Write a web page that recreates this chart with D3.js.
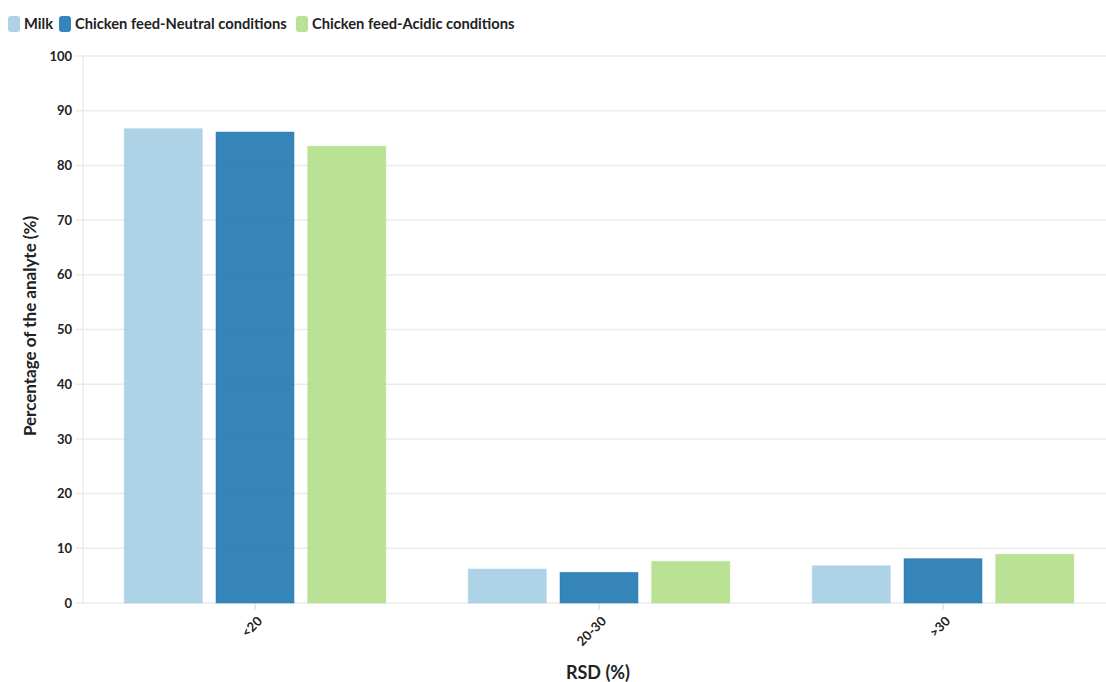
<!DOCTYPE html>
<html><head><meta charset="utf-8">
<script src="https://cdn.jsdelivr.net/npm/d3@7"></script>
<style>
body{margin:0;background:#fff;}
text{font-family:Lato,"Open Sans",sans-serif;font-weight:700;fill:#222;}
</style></head>
<body><svg id="c" width="1106" height="682"></svg>
<script>
const categories = ["<20", "20-30", ">30"];
const seriesNames = ["Milk", "Chicken feed-Neutral conditions", "Chicken feed-Acidic conditions"];
const milk = [86.7, 6.2, 6.8];
const neutral = [86.1, 5.6, 8.1];
const acidic = [83.5, 7.6, 8.9];
const yTicks = [0,10,20,30,40,50,60,70,80,90,100];
const colors = ["#a6cee3", "#1f78b4", "#b2df8a"];

(function(){
const series = [milk, neutral, acidic];
const svg = d3.select("#c");
const pLeft = 83, pRight = 1115, pTop = 56, pBottom = 603;

const y = d3.scaleLinear().domain([0,100]).range([pBottom, pTop]);
const x0 = d3.scaleBand().domain(categories).range([pLeft, pRight]).paddingInner(0.24).paddingOuter(0.12);
const x1 = d3.scaleBand().domain(seriesNames).range([0, x0.bandwidth()]).paddingInner(0.15);

// grid
svg.append("g").selectAll("line").data(yTicks).join("line")
  .attr("x1", 76).attr("x2", 1106)
  .attr("y1", d => y(d)).attr("y2", d => y(d))
  .attr("stroke", "#ebebeb").attr("stroke-width", 1.5);
svg.append("line").attr("x1", pLeft).attr("x2", pLeft).attr("y1", pTop).attr("y2", pBottom)
  .attr("stroke", "#ebebeb").attr("stroke-width", 1.5);

// y axis
const ya = svg.append("g").attr("transform", `translate(${pLeft},0)`)
  .call(d3.axisLeft(y).tickValues(yTicks).tickSize(0).tickPadding(11));
ya.select(".domain").remove();
ya.selectAll("text").attr("font-size", 13).attr("fill", "#111").style("font-family","Lato,'Open Sans',sans-serif").style("font-weight",700);

// x axis
const xa = svg.append("g").attr("transform", `translate(0,${pBottom})`)
  .call(d3.axisBottom(x0).tickSize(7).tickPadding(4));
xa.select(".domain").remove();
xa.selectAll(".tick line").attr("stroke", "#e0e0e0").attr("stroke-width", 1.5);
xa.selectAll("text").attr("font-size", 13).attr("fill", "#111")
  .style("font-family","Lato,'Open Sans',sans-serif").style("font-weight",700)
  .attr("text-anchor", "end").attr("x", 0).attr("y", 0).attr("dy", 0)
  .attr("transform", "translate(8,19) rotate(-45)");

// bars
const g = svg.append("g");
categories.forEach((c, ci) => {
  g.selectAll(null).data(series.map((s, si) => ({name: seriesNames[si], v: s[ci], color: colors[si]})))
    .join("rect")
    .attr("x", d => x0(c) + x1(d.name))
    .attr("width", x1.bandwidth())
    .attr("y", d => y(d.v))
    .attr("height", d => y(0) - y(d.v))
    .attr("fill", d => d.color).attr("fill-opacity", 0.9)
    .attr("stroke", d => d.color).attr("stroke-opacity", 0.5).attr("stroke-width", 1);
});

// legend
const lg = svg.append("g");
const legX = [8, 59, 296];
seriesNames.forEach((n, i) => {
  lg.append("rect").attr("x", legX[i]).attr("y", 16).attr("width", 12).attr("height", 16).attr("rx", 3)
    .attr("fill", colors[i]).attr("fill-opacity", 0.9);
  lg.append("text").attr("x", legX[i] + 16).attr("y", 28.5).attr("font-size", 14.7).attr("fill", "#333").text(n);
});

// axis titles
svg.append("text").attr("x", 598).attr("y", 679).attr("text-anchor", "middle").attr("font-size", 18).attr("fill", "#111").text("RSD (%)");
svg.append("text").attr("transform", "translate(36,326) rotate(-90)").attr("text-anchor", "middle").attr("font-size", 17).attr("fill", "#111").text("Percentage of the analyte (%)");
})();
</script></body></html>
